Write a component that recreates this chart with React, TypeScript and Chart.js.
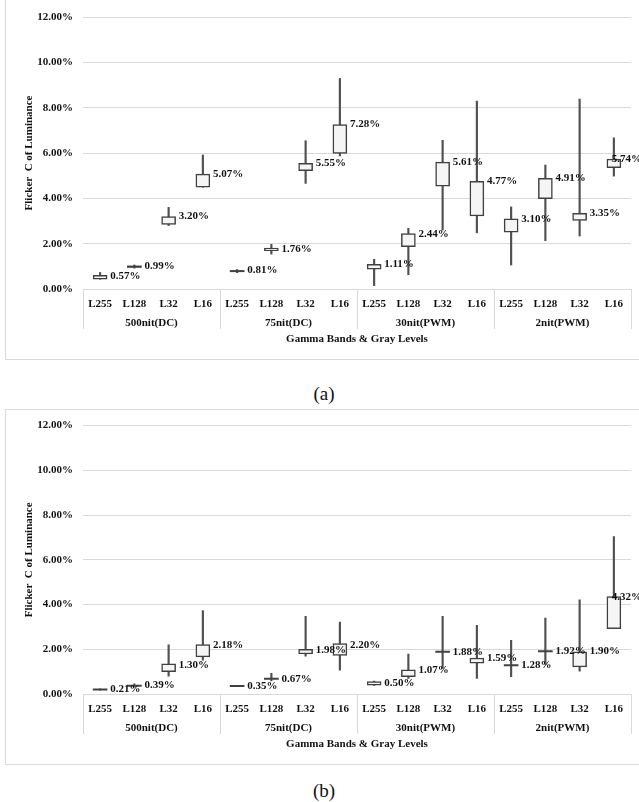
import React, { useEffect, useRef } from 'react';
import { Chart, registerables } from 'chart.js';

Chart.register(...registerables);

// ---------- data ----------
const grayLevels = ['L255', 'L128', 'L32', 'L16', 'L255', 'L128', 'L32', 'L16', 'L255', 'L128', 'L32', 'L16', 'L255', 'L128', 'L32', 'L16'];
const gammaBands = ['500nit(DC)', '75nit(DC)', '30nit(PWM)', '2nit(PWM)'];
const yTickValues = [0, 2, 4, 6, 8, 10, 12];
const xAxisTitle = 'Gamma Bands & Gray Levels';
const yAxisTitle = 'Flicker  C of Luminance';

// chart (a)
const aBoxLow = [0.43, 0.95, 2.85, 4.49, 0.76, 1.69, 5.22, 5.98, 0.87, 1.87, 4.54, 3.22, 2.51, 3.98, 3.03, 5.35];
const aBoxHigh = [0.60, 1.02, 3.19, 5.07, 0.82, 1.80, 5.54, 7.25, 1.09, 2.44, 5.60, 4.75, 3.10, 4.88, 3.34, 5.73];
const aWhiskLow = [0.43, 0.92, 2.80, 4.49, 0.72, 1.54, 4.66, 5.87, 0.15, 0.63, 2.60, 2.48, 1.06, 2.13, 2.34, 4.98];
const aWhiskHigh = [0.73, 1.06, 3.60, 5.91, 0.86, 1.97, 6.54, 9.29, 1.31, 2.68, 6.56, 8.29, 3.62, 5.47, 8.38, 6.67];
const aLabels = [0.57, 0.99, 3.20, 5.07, 0.81, 1.76, 5.55, 7.28, 1.11, 2.44, 5.61, 4.77, 3.10, 4.91, 3.35, 5.74];

// chart (b)
const bBoxLow = [0.17, 0.34, 1.00, 1.66, 0.33, 0.65, 1.79, 1.73, 0.40, 0.77, 1.86, 1.38, 1.25, 1.88, 1.21, 2.92];
const bBoxHigh = [0.23, 0.40, 1.35, 2.21, 0.39, 0.71, 2.00, 2.25, 0.55, 1.08, 1.92, 1.61, 1.31, 1.94, 1.88, 4.36];
const bWhiskLow = [0.17, 0.30, 0.80, 1.51, 0.33, 0.58, 1.69, 1.07, 0.38, 0.70, 1.14, 0.70, 0.77, 1.32, 1.02, 2.92];
const bWhiskHigh = [0.23, 0.45, 2.20, 3.73, 0.39, 0.92, 3.47, 3.21, 0.58, 1.79, 3.47, 3.07, 2.40, 3.39, 4.21, 7.04];
const bLabels = [0.21, 0.39, 1.30, 2.18, 0.35, 0.67, 1.98, 2.20, 0.50, 1.07, 1.88, 1.59, 1.28, 1.92, 1.90, 4.32];

// ---------- styles ----------
const FONT = "'Liberation Serif', 'Times New Roman', serif";
const TEXT = '#111111';
const GRID = '#d9d9d9';
const BOX_W = 14;
const BOX_EDGE = '#404040';
const BOX_FILL = '#f5f5f5';

const overlayPlugin = {
  id: 'overlay',
  afterDatasetsDraw(chart: any, _args: any, opts: any) {
    const { ctx, scales } = chart;
    const x = scales.x;
    const y = scales.y;
    ctx.save();
    ctx.font = `bold 11px ${FONT}`;
    ctx.fillStyle = TEXT;
    ctx.textBaseline = 'middle';
    ctx.textAlign = 'left';
    (opts.labels as number[]).forEach((v, i) => {
      const text = v.toFixed(2) + '%';
      const w = ctx.measureText(text).width;
      let px = x.getPixelForValue(i) + BOX_W / 2 + 3;
      if (px + w > chart.width + 3) px = chart.width + 3 - w;
      ctx.fillText(text, px, y.getPixelForValue(v));
    });
    ctx.restore();
  },
  afterDraw(chart: any, _args: any, opts: any) {
    const { ctx, chartArea } = chart;
    const { left, right, top, bottom } = chartArea;
    ctx.save();
    // outer frame
    ctx.strokeStyle = GRID;
    ctx.lineWidth = 1;
    ctx.strokeRect(5.5, opts.frameTop + 0.5, chart.width + 10, opts.frameBottom - opts.frameTop);
    // category table separators
    const gw = (right - left) / gammaBands.length;
    ctx.beginPath();
    for (let g = 0; g <= gammaBands.length; g++) {
      const px = Math.round(left + g * gw) + 0.5;
      ctx.moveTo(px, bottom);
      ctx.lineTo(px, bottom + 40);
    }
    ctx.stroke();
    // group labels
    ctx.fillStyle = TEXT;
    ctx.font = `bold 11px ${FONT}`;
    ctx.textAlign = 'center';
    ctx.textBaseline = 'middle';
    gammaBands.forEach((g, i) => {
      ctx.fillText(g, left + (i + 0.5) * gw, bottom + 34);
    });
    // x title
    ctx.fillText(xAxisTitle, (left + right) / 2, bottom + 50);
    // y title
    ctx.translate(29, (top + bottom) / 2);
    ctx.rotate(-Math.PI / 2);
    ctx.fillText(yAxisTitle, 0, 0);
    ctx.restore();
  },
};

function buildConfig(boxLow: number[], boxHigh: number[], wLow: number[], wHigh: number[], labels: number[], top: number, frameTop: number, frameBottom: number): any {
  const flat = boxLow.map((l, i) => boxHigh[i] - l < 0.1);
  return {
    type: 'bar',
    data: {
      labels: grayLevels,
      datasets: [
        {
          data: boxLow.map((l, i) => [l, boxHigh[i]]),
          backgroundColor: boxLow.map((_, i) => (flat[i] ? BOX_EDGE : BOX_FILL)),
          borderColor: BOX_EDGE,
          borderWidth: boxLow.map((_, i) => (flat[i] ? 0 : 1.5)),
          borderSkipped: false,
          barThickness: BOX_W,
          grouped: false,
        },
        {
          data: wLow.map((l, i) => [l, wHigh[i]]),
          backgroundColor: '#505050',
          borderWidth: 0,
          barThickness: 1.5,
          grouped: false,
        },
      ],
    },
    options: {
      responsive: false,
      maintainAspectRatio: false,
      animation: false,
      layout: { padding: { left: 0, right: 8, top, bottom: 0 } },
      plugins: {
        legend: { display: false },
        tooltip: { enabled: false },
        overlay: { labels, frameTop, frameBottom },
      },
      scales: {
        x: {
          type: 'category',
          offset: true,
          grid: { display: false },
          border: { display: false },
          ticks: {
            autoSkip: false,
            maxRotation: 0,
            padding: 1,
            color: TEXT,
            font: { family: FONT, size: 11, weight: 'bold' },
          },
          afterFit: (s: any) => { s.height = 71; },
        },
        y: {
          min: yTickValues[0],
          max: yTickValues[yTickValues.length - 1],
          afterBuildTicks: (s: any) => { s.ticks = yTickValues.map((v) => ({ value: v })); },
          ticks: {
            padding: 10,
            color: TEXT,
            font: { family: FONT, size: 11, weight: 'bold' },
            callback: (v: any) => Number(v).toFixed(2) + '%',
          },
          grid: { color: GRID, lineWidth: 1, drawTicks: false },
          border: { display: false },
          afterFit: (s: any) => { s.width = 83; },
        },
      },
    },
    plugins: [overlayPlugin],
  };
}

function BoxChart(props: { cfg: any; top: number; height: number }) {
  const ref = useRef<HTMLCanvasElement | null>(null);
  useEffect(() => {
    if (!ref.current) return;
    const chart = new Chart(ref.current, props.cfg);
    return () => chart.destroy();
  }, []);
  return (
    <canvas
      ref={ref}
      width={639}
      height={props.height}
      style={{ position: 'absolute', left: 0, top: props.top, width: 639, height: props.height, display: 'block' }}
    />
  );
}

const captionStyle: React.CSSProperties = {
  position: 'absolute',
  left: 224,
  width: 200,
  textAlign: 'center',
  fontFamily: FONT,
  fontSize: 19,
  lineHeight: '19px',
  color: '#111',
};

export default function App() {
  const cfgA = buildConfig(aBoxLow, aBoxHigh, aWhiskLow, aWhiskHigh, aLabels, 17, -3, 359);
  const cfgB = buildConfig(bBoxLow, bBoxHigh, bWhiskLow, bWhiskHigh, bLabels, 15, 0, 355);
  return (
    <div style={{ position: 'absolute', left: 0, top: 0, width: 639, height: 802, background: '#fff', overflow: 'hidden' }}>
      <BoxChart cfg={cfgA} top={0} height={360} />
      <div style={{ ...captionStyle, top: 384 }}>(a)</div>
      <BoxChart cfg={cfgB} top={409} height={356} />
      <div style={{ ...captionStyle, top: 781 }}>(b)</div>
    </div>
  );
}
